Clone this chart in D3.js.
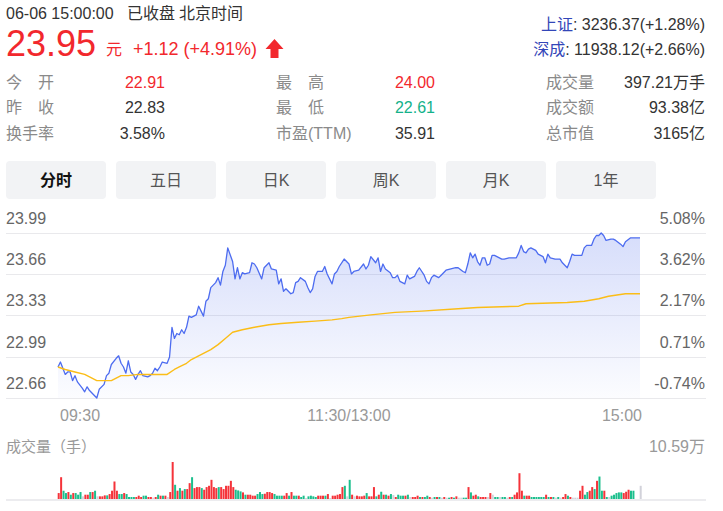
<!DOCTYPE html>
<html><head><meta charset="utf-8">
<script src="https://cdn.jsdelivr.net/npm/d3@7"></script>
<style>
html,body{margin:0;padding:0;background:#fff;}
svg{display:block;font-family:"Liberation Sans",Arial,"Noto Sans CJK SC",sans-serif;}
</style></head>
<body><svg id="c" width="723" height="511"></svg>
<script>
// ---------- data ----------
const prevClose = 22.83;
const priceTimes = [0,1,2,3,4,5,6,7,8,10,11,12,13,15,16,17,19,20,21,22,24,25,26,27,28,29,30,31,32,33,34,35,37,38,39,40,41,42,43,45,46,47,48,49,50,51,52,53,54,55,57,58,59,60,61,62,63,65,66,67,68,69,70,72,73,74,75,76,77,79,80,81,82,84,85,87,88,90,91,92,93,94,96,97,98,99,100,102,103,104,105,106,107,109,110,111,113,114,115,116,118,119,120,121,122,124,126,127,128,129,131,132,133,134,135,137,138,139,140,141,143,144,145,147,148,149,151,152,153,154,155,157,158,160,162,164,165,167,168,169,170,171,172,173,174,175,176,177,178,179,180,182,183,184,186,189,190,191,192,193,194,195,197,198,200,201,202,203,205,207,208,210,211,212,213,215,216,217,218,220,221,222,223,224,225,226,228,229,230,232,233,234,236,237,240];
const prices = [22.91,22.95,22.90,22.85,22.87,22.87,22.80,22.84,22.79,22.74,22.71,22.75,22.72,22.68,22.66,22.73,22.77,22.84,22.86,22.93,22.98,23.00,22.94,22.91,22.86,22.96,22.87,22.85,22.81,22.85,22.88,22.84,22.83,22.84,22.86,22.90,22.88,22.91,22.95,22.94,22.99,23.23,23.14,23.18,23.17,23.21,23.18,23.23,23.32,23.31,23.33,23.40,23.36,23.32,23.44,23.46,23.55,23.59,23.63,23.57,23.68,23.73,23.87,23.76,23.62,23.71,23.62,23.67,23.66,23.67,23.75,23.74,23.71,23.62,23.71,23.75,23.70,23.69,23.58,23.62,23.52,23.54,23.50,23.51,23.59,23.60,23.63,23.60,23.55,23.51,23.54,23.64,23.68,23.68,23.72,23.66,23.58,23.66,23.68,23.72,23.78,23.76,23.74,23.66,23.68,23.69,23.74,23.70,23.73,23.80,23.75,23.79,23.68,23.74,23.70,23.67,23.63,23.63,23.65,23.60,23.58,23.65,23.62,23.64,23.68,23.71,23.65,23.60,23.58,23.63,23.65,23.63,23.65,23.69,23.70,23.71,23.71,23.68,23.67,23.74,23.83,23.79,23.82,23.76,23.73,23.79,23.79,23.73,23.74,23.81,23.81,23.79,23.78,23.78,23.79,23.79,23.83,23.89,23.84,23.83,23.86,23.87,23.85,23.82,23.80,23.75,23.82,23.79,23.78,23.78,23.75,23.71,23.76,23.82,23.81,23.81,23.81,23.87,23.89,23.89,23.94,23.97,23.97,23.99,23.97,23.93,23.94,23.94,23.93,23.90,23.88,23.92,23.95,23.95,23.95];
const avgTimes = [0,3,7,11,14,16,19,22,24,26,29,33,40,45,48,50,53,55,59,63,66,69,72,76,81,87,92,99,106,113,117,120,129,139,150,165,173,190,193,210,217,223,227,234,240];
const avgPrices = [22.91,22.89,22.87,22.85,22.82,22.80,22.80,22.80,22.82,22.84,22.84,22.85,22.85,22.85,22.89,22.91,22.94,22.97,23.01,23.05,23.09,23.14,23.19,23.21,23.23,23.25,23.26,23.27,23.28,23.29,23.30,23.31,23.33,23.35,23.36,23.38,23.39,23.40,23.42,23.43,23.44,23.46,23.48,23.50,23.50];
// volume per minute (手), index = minute since 09:30 (0..240)
const volumes = [
17000,62400,23700,17000,19900,12300,17000,17000,12300,19900,
7600,12300,12300,19900,19900,23700,7600,7600,7600,10400,
10400,14200,23700,50100,23700,14200,14200,17000,14200,5700,
5700,5700,5700,9500,5700,9500,9500,5700,5700,3800,
5700,12300,9500,9500,9500,5700,19900,105900,40700,23700,
31200,23700,28400,28400,45400,62400,31200,34100,34100,31200,
26500,34100,37800,54900,34100,31200,34100,34100,28400,37800,
37800,52000,34100,26500,24600,21800,18900,12300,12300,12300,
9500,9500,14200,19900,14200,15100,19900,19900,17000,14200,
9500,9500,9500,9500,17000,9500,19900,9500,9500,9500,
5700,9500,2800,7600,9500,7600,5700,9500,9500,9500,
9500,14200,2800,9500,9500,12300,14200,34100,37800,7600,
54900,12300,7600,9500,7600,
7600,9500,17000,7600,7600,34100,7600,12300,20800,12300,
12300,9500,14200,11400,5700,12300,9500,9500,9500,12300,
5700,5700,5700,9500,5700,5700,5700,9500,5700,3800,
5700,5700,5700,3800,5700,3800,3800,5700,3800,7600,
3800,3800,3800,3800,34100,18900,9500,12300,7600,5700,
5700,5700,5700,17000,12300,5700,5700,5700,5700,5700,
3800,5700,5700,12300,18900,73800,23700,9500,9500,9500,
5700,5700,5700,5700,5700,5700,12300,5700,5700,5700,
3800,5700,3800,5700,14200,9500,5700,3800,3800,3800,
23700,37800,12300,19900,23700,34100,28400,52000,64300,23700,
23700,5700,5700,9500,12300,17000,18900,18900,17000,20800,
26500,23700,23700,0,0,37800];
// 1 = up (red), -1 = down (green), 0 = flat (grey)
const volDir = [
1,1,-1,-1,1,-1,1,-1,-1,-1, 0,1,1,-1,1,-1,0,1,1,1, -1,1,1,1,1,-1,-1,1,-1,-1,
-1,-1,1,1,1,-1,-1,1,1,0, 1,-1,1,-1,1,0,1,1,-1,1, -1,1,-1,1,1,-1,1,1,1,-1,
1,1,1,1,1,1,-1,1,1,1, 1,1,1,-1,-1,-1,1,-1,1,1, 1,1,-1,-1,-1,1,1,1,1,-1,
-1,-1,-1,1,1,-1,1,-1,-1,1, -1,-1,0,-1,-1,-1,-1,1,1,1, -1,1,0,1,1,1,1,1,-1,0,
-1,1,0,1,1,
1,1,-1,1,1,1,-1,1,-1,1, -1,1,-1,0,1,-1,-1,-1,1,-1, 0,1,1,1,-1,1,-1,-1,1,0,
-1,1,-1,0,1,0,-1,1,-1,1, 0,0,-1,-1,1,-1,1,1,-1,1, 1,1,0,1,0,-1,-1,0,-1,-1,
0,1,-1,1,1,1,1,-1,1,1, -1,-1,-1,-1,-1,-1,1,-1,1,-1, 0,-1,0,1,1,-1,1,0,0,0,
1,1,-1,-1,1,1,-1,1,-1,-1, 1,-1,0,-1,-1,-1,-1,-1,1,1, 1,-1,-1,0,0,0];
const yTickValues = [23.99, 23.66, 23.33, 22.99, 22.66];
const yTickPct = ["5.08%", "3.62%", "2.17%", "0.71%", "-0.74%"];
const xTickTimes = [0, 120, 240];
const xTickLabels = ["09:30", "11:30/13:00", "15:00"];
const volMax = 105900;
const volMaxLabel = "10.59万";
const tabs = ["分时", "五日", "日K", "周K", "月K", "1年"];
const infoCol1Labels = ["今　开", "昨　收", "换手率"];
const infoCol1Values = ["22.91", "22.83", "3.58%"];
const infoCol2Labels = ["最　高", "最　低", "市盈(TTM)"];
const infoCol2Values = ["24.00", "22.61", "35.91"];
const infoCol3Labels = ["成交量", "成交额", "总市值"];
const infoCol3Values = ["397.21万手", "93.38亿", "3165亿"];

// ---------- drawing ----------
const RED = "#f2282d", GREEN = "#14b28a", DARK = "#333", GREY = "#8a8a8a";
const svg = d3.select("#c");

// header
svg.append("text").attr("x", 6).attr("y", 19).attr("font-size", 16).attr("fill", DARK).text("06-06 15:00:00");
svg.append("text").attr("x", 127).attr("y", 19).attr("font-size", 16).attr("fill", DARK).text("已收盘");
svg.append("text").attr("x", 179).attr("y", 19).attr("font-size", 16).attr("fill", DARK).text("北京时间");
svg.append("text").attr("x", 6).attr("y", 56).attr("font-size", 36).attr("fill", RED).text("23.95");
svg.append("text").attr("x", 106).attr("y", 55).attr("font-size", 16).attr("fill", RED).text("元");
svg.append("text").attr("x", 133).attr("y", 55).attr("font-size", 18).attr("fill", RED).text("+1.12 (+4.91%)");
svg.append("path").attr("fill", RED)
  .attr("d", "M274.5,39 L283.5,49 L278.5,49 L278.5,58 L270.5,58 L270.5,49 L265.5,49 Z");

const idx = [["上证", ": 3236.37(+1.28%)", 30], ["深成", ": 11938.12(+2.66%)", 55]];
idx.forEach(d => {
  const t = svg.append("text").attr("x", 705).attr("y", d[2]).attr("font-size", 16).attr("text-anchor", "end");
  t.append("tspan").attr("fill", "#3346b8").text(d[0]);
  t.append("tspan").attr("fill", DARK).text(d[1]);
});

const rowY = [87.5, 113, 138.5];
rowY.forEach((y, i) => {
  svg.append("text").attr("x", 6).attr("y", y).attr("font-size", 16).attr("fill", GREY).text(infoCol1Labels[i]);
  svg.append("text").attr("x", 165).attr("y", y).attr("font-size", 16).attr("text-anchor", "end")
    .attr("fill", i === 0 ? RED : DARK).text(infoCol1Values[i]);
  svg.append("text").attr("x", 276).attr("y", y).attr("font-size", 16).attr("fill", GREY).text(infoCol2Labels[i]);
  svg.append("text").attr("x", 435).attr("y", y).attr("font-size", 16).attr("text-anchor", "end")
    .attr("fill", i === 0 ? RED : (i === 1 ? GREEN : DARK)).text(infoCol2Values[i]);
  svg.append("text").attr("x", 546).attr("y", y).attr("font-size", 16).attr("fill", GREY).text(infoCol3Labels[i]);
  svg.append("text").attr("x", 705).attr("y", y).attr("font-size", 16).attr("text-anchor", "end")
    .attr("fill", DARK).text(infoCol3Values[i]);
});

// tabs
const tabX = d3.scalePoint().domain(tabs).range([6, 556]);
tabs.forEach((t, i) => {
  svg.append("rect").attr("x", tabX(t)).attr("y", 161).attr("width", 100).attr("height", 38)
    .attr("rx", 4).attr("fill", "#f2f3f5");
  svg.append("text").attr("x", tabX(t) + 50).attr("y", 186).attr("text-anchor", "middle")
    .attr("font-size", 16).attr("font-weight", i === 0 ? "bold" : "normal")
    .attr("fill", i === 0 ? "#111" : "#555").text(t);
});

// scales
const x = d3.scaleLinear().domain([0, 240]).range([58, 640]);
const y = d3.scaleLinear().domain([22.66, 23.99]).range([398, 233]);
const yv = d3.scaleLinear().domain([0, volMax]).range([499, 462]);

// grid + labels
yTickValues.forEach((v, i) => {
  const yy = Math.round(y(v)) + 0.5;
  svg.append("line").attr("x1", 6).attr("x2", 706).attr("y1", yy).attr("y2", yy)
    .attr("stroke", "#e9e9ec").attr("stroke-width", 1);
  svg.append("text").attr("x", 6).attr("y", y(v) - 9).attr("font-size", 16).attr("fill", "#666").text(v.toFixed(2));
  svg.append("text").attr("x", 705).attr("y", y(v) - 9).attr("font-size", 16).attr("fill", "#666")
    .attr("text-anchor", "end").text(yTickPct[i]);
});

// gradient
const defs = svg.append("defs");
const g = defs.append("linearGradient").attr("id", "ag")
  .attr("gradientUnits", "userSpaceOnUse").attr("x1", 0).attr("y1", 233).attr("x2", 0).attr("y2", 398);
g.append("stop").attr("offset", "0%").attr("stop-color", "#5572ee").attr("stop-opacity", 0.24);
g.append("stop").attr("offset", "100%").attr("stop-color", "#5572ee").attr("stop-opacity", 0.02);

const pts = priceTimes.map((t, i) => [t, prices[i]]);
const area = d3.area().x(d => x(d[0])).y0(y(22.66)).y1(d => y(d[1]));
svg.append("path").datum(pts).attr("d", area).attr("fill", "url(#ag)");
const line = d3.line().x(d => x(d[0])).y(d => y(d[1]));
svg.append("path").datum(pts).attr("d", line).attr("fill", "none").attr("stroke", "#4d6cf0")
  .attr("stroke-width", 1.3).attr("stroke-linejoin", "round");
const apts = avgTimes.map((t, i) => [t, avgPrices[i]]);
svg.append("path").datum(apts).attr("d", line).attr("fill", "none").attr("stroke", "#fbbd17")
  .attr("stroke-width", 1.4).attr("stroke-linejoin", "round");

// x labels
const xAnchors = ["start", "middle", "end"];
xTickTimes.forEach((t, i) => {
  let xx = x(t);
  if (i === 0) xx += 2;
  if (i === 2) xx += 2;
  svg.append("text").attr("x", xx).attr("y", 420.5).attr("font-size", 16).attr("fill", "#999")
    .attr("text-anchor", xAnchors[i]).text(xTickLabels[i]);
});

// volume
svg.append("text").attr("x", 6).attr("y", 452).attr("font-size", 15).attr("fill", "#999").text("成交量（手）");
svg.append("text").attr("x", 705).attr("y", 452).attr("font-size", 16).attr("fill", "#999")
  .attr("text-anchor", "end").text(volMaxLabel);
svg.append("line").attr("x1", 6).attr("x2", 706).attr("y1", 500).attr("y2", 500)
  .attr("stroke", "#e6e6ea").attr("stroke-width", 1.5);
svg.append("g").selectAll("rect").data(volumes).join("rect")
  .attr("x", (d, i) => x(i) - 0.3)
  .attr("width", 2)
  .attr("y", d => yv(d))
  .attr("height", d => yv(0) - yv(d))
  .attr("fill", (d, i) => volDir[i] > 0 ? "#f5333a" : (volDir[i] < 0 ? "#1cbf8d" : "#d2d2da"));
</script></body></html>
